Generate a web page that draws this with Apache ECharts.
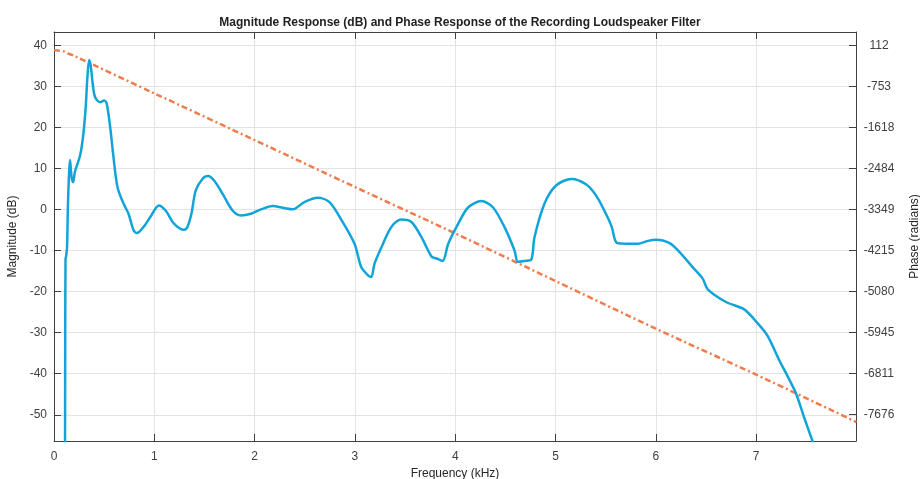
<!DOCTYPE html>
<html>
<head>
<meta charset="utf-8">
<script src="https://cdn.jsdelivr.net/npm/echarts@6/dist/echarts.min.js"></script>
<style>
  html, body { margin: 0; padding: 0; background: #fff; }
  #chart { width: 920px; height: 479px; }
</style>
</head>
<body>
<div id="chart"></div>
<script>
// frequency ticks (kHz)
var freqTicks = [0, 1, 2, 3, 4, 5, 6, 7];
// magnitude ticks (dB)
var magTicks = [-50, -40, -30, -20, -10, 0, 10, 20, 30, 40];
// phase ticks (radians), as printed on the right axis
var phaseTicks = [112, -753, -1618, -2484, -3349, -4215, -5080, -5945, -6811, -7676];

// magnitude response
var magFreq = [0.11, 0.112, 0.115, 0.12, 0.13, 0.14, 0.16, 0.175, 0.19, 0.21, 0.26, 0.293, 0.316, 0.333, 0.35,
  0.366, 0.386, 0.41, 0.46, 0.5, 0.526, 0.56, 0.593, 0.633, 0.693, 0.743, 0.793, 0.826, 0.893, 0.96,
  1.046, 1.113, 1.196, 1.296, 1.33, 1.37, 1.413, 1.48, 1.536, 1.596, 1.68, 1.78, 1.863, 1.963,
  2.063, 2.18, 2.296, 2.38, 2.496, 2.63, 2.746, 2.863, 2.996, 3.063, 3.13, 3.163, 3.196, 3.28, 3.363,
  3.463, 3.563, 3.663, 3.763, 3.813, 3.873, 3.93, 4.03, 4.13, 4.26, 4.375, 4.49, 4.59, 4.625, 4.69,
  4.757, 4.79, 4.89, 5.005, 5.16, 5.303, 5.403, 5.502, 5.56, 5.612, 5.72, 5.82, 5.92, 6.0, 6.133,
  6.25, 6.366, 6.467, 6.517, 6.7, 6.88, 7.015, 7.115, 7.23, 7.315, 7.397, 7.48, 7.585];
var magDb = [-60, -30, -12, -11.5, -9.1, 2, 12.1, 8, 6.7, 9.4, 13.2, 18.5, 25, 32.3, 36.5,
  35.1, 30.7, 27.4, 26.2, 26.6, 25.8, 20.1, 12.8, 5.5, 1.5, -1, -5, -5.7, -4.2, -1.8,
  1.05, -0.2, -3.4, -4.9, -4.2, -1, 4.7, 7.5, 8.2, 7.1, 3.9, -0.2, -1.4, -1.0,
  0.07, 0.9, 0.4, 0.1, 1.85, 2.9, 1.85, -2.4, -8.3, -14, -16, -16.4, -13.1, -8.3, -4.2,
  -2.4, -3.0, -6.7, -11.4, -11.9, -12.5, -8.3, -3.4, 0.6, 2.1, 0.6, -4.2, -9.9, -12.7, -12.5,
  -12.2, -6.7, 1.5, 5.9, 7.5, 6.2, 3.5, -1, -4.2, -8.1, -8.3, -8.3, -7.6, -7.3, -8.1,
  -10.7, -14, -16.8, -19.4, -22.5, -24.3, -27.7, -30.8, -36.7, -40.7, -44.8, -50.8, -58];

// phase response
var phaseFreq = [0, 0.05, 0.1, 0.15, 0.2, 1, 2, 3, 4, 5, 6, 7, 8];
var phaseRad = [17, 8, -9, -61, -103, -894, -1880, -2870, -3850, -4855, -5860, -6830, -7830];

function pairs(xs, ys) {
  return xs.map(function (x, i) { return [x, ys[i]]; });
}

var chart = echarts.init(document.getElementById('chart'));
var axisColor = '#404040';
var textColor = '#404040';
var gridColor = '#e3e3e3';

chart.setOption({
  animation: false,
  title: {
    text: 'Magnitude Response (dB) and Phase Response of the Recording Loudspeaker Filter',
    left: 455,
    top: 12,
    textAlign: 'center',
    textStyle: { fontFamily: 'Liberation Sans', fontSize: 12, fontWeight: 'bold', color: '#222' }
  },
  grid: { left: 54, right: 64, top: 32, bottom: 38, outerBoundsMode: 'none', containLabel: false },
  xAxis: [
    {
      type: 'value',
      min: 0,
      max: 7.995,
      name: 'Frequency (kHz)',
      nameLocation: 'middle',
      nameGap: 26,
      nameTextStyle: { fontFamily: 'Liberation Sans', fontSize: 12, color: '#262626' },
      axisLine: { onZero: false, lineStyle: { color: axisColor, width: 1 } },
      axisTick: { inside: true, length: 7, customValues: freqTicks, lineStyle: { color: axisColor } },
      axisLabel: { customValues: freqTicks, margin: 10, fontFamily: 'Liberation Sans', fontSize: 12, color: textColor },
      splitLine: { show: true, lineStyle: { color: gridColor, width: 1 } }
    },
    {
      type: 'value',
      position: 'top',
      min: 0,
      max: 7.995,
      axisLine: { onZero: false, lineStyle: { color: axisColor, width: 1 } },
      axisTick: { inside: true, length: 7, customValues: freqTicks, lineStyle: { color: axisColor } },
      axisLabel: { show: false },
      splitLine: { show: false }
    }
  ],
  yAxis: [
    {
      type: 'value',
      min: -56.4,
      max: 43.33,
      name: 'Magnitude (dB)',
      nameLocation: 'middle',
      nameGap: 27,
      nameRotate: 90,
      nameTextStyle: { fontFamily: 'Liberation Sans', fontSize: 12, color: '#262626' },
      axisLine: { onZero: false, show: true, lineStyle: { color: axisColor, width: 1 } },
      axisTick: { show: true, inside: true, length: 7, customValues: magTicks, lineStyle: { color: axisColor } },
      axisLabel: { customValues: magTicks, margin: 7, fontFamily: 'Liberation Sans', fontSize: 12, color: textColor },
      splitLine: { show: true, lineStyle: { color: gridColor, width: 1 } }
    },
    {
      type: 'value',
      position: 'right',
      min: -8230,
      max: 400,
      name: 'Phase (radians)',
      nameLocation: 'middle',
      nameGap: 53,
      nameRotate: 90,
      nameTextStyle: { fontFamily: 'Liberation Sans', fontSize: 12, color: '#262626' },
      axisLine: { onZero: false, show: true, lineStyle: { color: axisColor, width: 1 } },
      axisTick: { show: true, inside: true, length: 7, customValues: phaseTicks, lineStyle: { color: axisColor } },
      axisLabel: {
        customValues: phaseTicks, margin: 23, align: 'center',
        formatter: function (v) { return String(v); },
        fontFamily: 'Liberation Sans', fontSize: 12, color: textColor
      },
      splitLine: { show: false }
    }
  ],
  series: [
    {
      name: 'Phase',
      type: 'line',
      yAxisIndex: 1,
      data: pairs(phaseFreq, phaseRad),
      smooth: 0.3,
      symbol: 'none',
      lineStyle: { color: '#f07b4c', width: 2.5, type: [6, 3, 2, 3] }
    },
    {
      name: 'Magnitude',
      type: 'line',
      yAxisIndex: 0,
      data: pairs(magFreq, magDb),
      smooth: 0.3,
      symbol: 'none',
      clip: true,
      lineStyle: { color: '#12a4d9', width: 2.5 }
    }
  ]
});
</script>
</body>
</html>
